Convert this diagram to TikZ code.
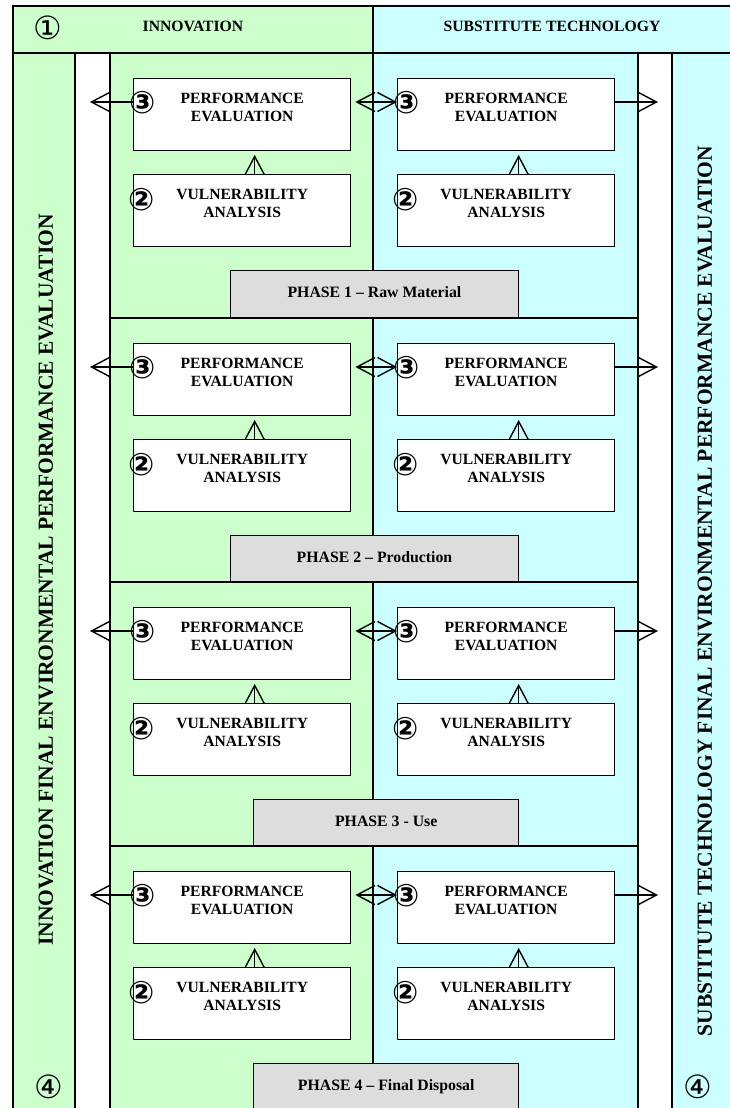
\documentclass[tikz,border=0pt]{standalone}
\usepackage{fontspec}
\setmainfont{Liberation Serif}
\newfontfamily\circfont{DejaVu Sans}
\usetikzlibrary{arrows.meta,calc}
\definecolor{ingreen}{HTML}{CCFFCC}
\definecolor{stcyan}{HTML}{CCFFFF}
\definecolor{phgray}{HTML}{DDDDDD}
\begin{document}
\begin{tikzpicture}[x=1pt,y=-1pt,
  frame/.style={draw=black,line width=1.4pt},
  box/.style={frame,fill=white,minimum width=217pt,minimum height=72pt,inner sep=0pt,anchor=north west},
  btext/.style={anchor=north,inner sep=0pt,align=center,font=\bfseries\fontsize{15.6}{17.5}\selectfont},
  htext/.style={inner sep=0pt,font=\bfseries\fontsize{15.7}{17}\selectfont,text height=11pt,text depth=5pt},
  phbox/.style={frame,fill=phgray,anchor=north west,minimum height=48pt,inner sep=0pt,font=\bfseries\fontsize{15.8}{17}\selectfont,text height=11pt,text depth=5pt},
  barb/.tip={Straight Barb[length=18pt,width=19pt]},
  arr/.style={line width=1.4pt,-barb},
  darr/.style={line width=1.4pt,barb-barb},
  circ/.style={inner sep=0pt,font=\circfont\fontsize{32}{32}\selectfont},
  circb/.style={inner sep=0pt,font=\circfont\bfseries\fontsize{31}{31}\selectfont},
  vtext/.style={rotate=90,inner sep=0pt,font=\bfseries\fontsize{21.5}{22}\selectfont},
]
\useasboundingbox (0,0) rectangle (729,1108);
% header
\draw[frame,fill=ingreen] (13,6) rectangle (373,53);
\draw[frame,fill=stcyan] (373,6) rectangle (732,53);
\node[htext] (hin) at (193,29) {INNOVATION};
\node[htext] (hst) at (552,29) {SUBSTITUTE TECHNOLOGY};
\node[circ] (n1) at (48,28) {①};
% side bands
\draw[frame,fill=ingreen] (13,53) rectangle (75,1112);
\draw[frame,fill=white] (75,53) rectangle (110,1112);
\draw[frame,fill=white] (638,53) rectangle (672,1112);
\draw[frame,fill=stcyan] (672,53) rectangle (732,1112);
\node[vtext] (vin) at (46,580) {INNOVATION FINAL ENVIRONMENTAL PERFORMANCE EVALUATION};
\node[vtext] (vst) at (705,591) {SUBSTITUTE TECHNOLOGY FINAL ENVIRONMENTAL PERFORMANCE EVALUATION};
\node[circ] (n4l) at (49,1087) {④};
\node[circ] (n4r) at (698,1087) {④};
% phases
\foreach \i/\T/\B/\lx/\lw/\lab in {
  1/53/318/229.5/288.5/{PHASE 1 – Raw Material},
  2/318/582/229.5/288.5/{PHASE 2 – Production},
  3/582/846/253/265/{PHASE 3 - Use},
  4/846/1112/253/265/{PHASE 4 – Final Disposal}}{
  \draw[frame,fill=ingreen] (110,\T) rectangle (373,\B);
  \draw[frame,fill=stcyan] (373,\T) rectangle (638,\B);
  \node[box] (pl\i) at (133,\T+24.5) {};
  \node[box] (pr\i) at (397,\T+24.5) {};
  \node[box] (vl\i) at (133,\T+120.5) {};
  \node[box] (vr\i) at (397,\T+120.5) {};
  \node[btext] (plt\i) at ([yshift=-15.5pt]pl\i.north) {PERFORMANCE\\EVALUATION};
  \node[btext] (prt\i) at ([yshift=-15.5pt]pr\i.north) {PERFORMANCE\\EVALUATION};
  \node[btext] (vlt\i) at ([yshift=-15.5pt]vl\i.north) {VULNERABILITY\\ANALYSIS};
  \node[btext] (vrt\i) at ([yshift=-15.5pt]vr\i.north) {VULNERABILITY\\ANALYSIS};
  \coordinate (row\i) at (0,\T+49);
  \coordinate (lt\i) at (90,\T+49);
  \coordinate (rt\i) at (658,\T+49);
  \draw[arr] (pl\i.west |- row\i) -- (lt\i);
  \draw[arr] (pr\i.east |- row\i) -- (rt\i);
  \draw[darr,shorten <=4pt] (pl\i.east |- row\i) -- (pr\i.west |- row\i);
  \draw[arr,shorten >=4pt] ([xshift=12.5pt]vl\i.north) -- ([xshift=12.5pt]pl\i.south);
  \draw[arr,shorten >=4pt] ([xshift=12.5pt]vr\i.north) -- ([xshift=12.5pt]pr\i.south);
  \node[circb] (c3l\i) at (142.5,\T+50) {③};
  \node[circb] (c3r\i) at (406.5,\T+50) {③};
  \node[circb] (c2l\i) at (142,\T+147) {②};
  \node[circb] (c2r\i) at (406,\T+147) {②};
  \node[phbox,minimum width=\lw pt] (ph\i) at (\lx,\T+216.5) {\lab};
}
\end{tikzpicture}
\end{document}
